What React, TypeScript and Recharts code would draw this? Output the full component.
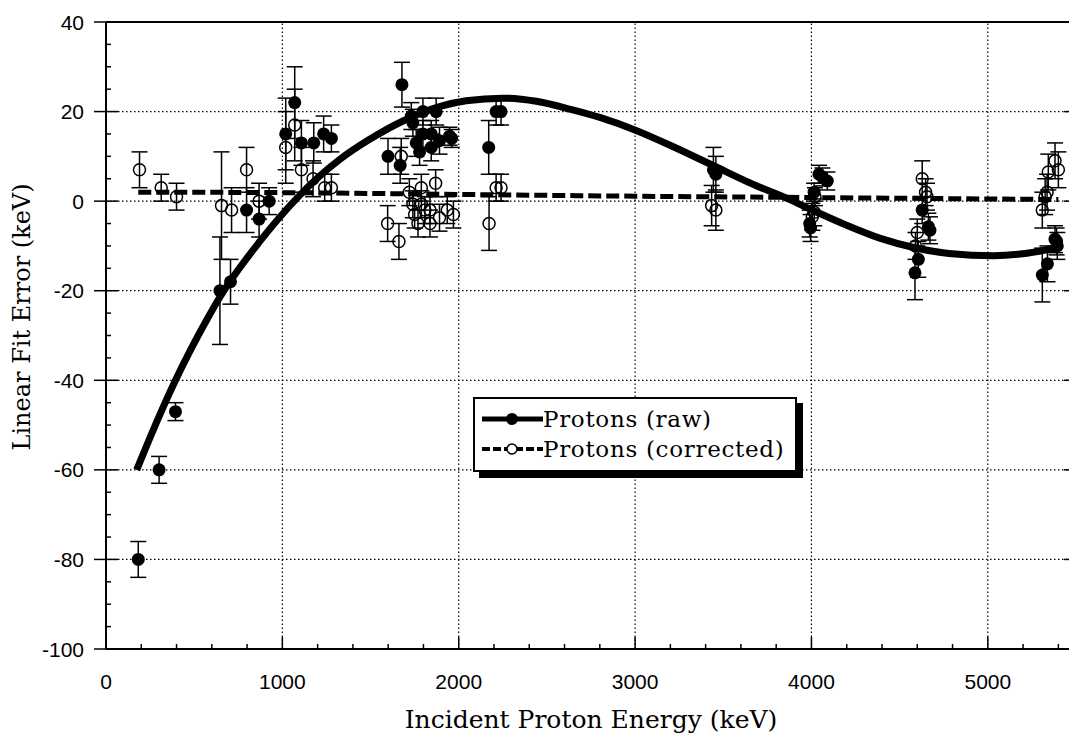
import React from "react";
import { ComposedChart, Line, Scatter, XAxis, YAxis, ErrorBar, ReferenceLine } from "recharts";

// axis ticks
const X_MAJOR = [0, 1000, 2000, 3000, 4000, 5000];
const X_MINOR = [0, 200, 400, 600, 800, 1000, 1200, 1400, 1600, 1800, 2000, 2200, 2400, 2600, 2800, 3000, 3200, 3400, 3600, 3800, 4000, 4200, 4400, 4600, 4800, 5000, 5200, 5400];
const Y_MAJOR = [-100, -80, -60, -40, -20, 0, 20, 40];
const Y_MINOR = [-100, -95, -90, -85, -80, -75, -70, -65, -60, -55, -50, -45, -40, -35, -30, -25, -20, -15, -10, -5, 0, 5, 10, 15, 20, 25, 30, 35, 40];

// Protons (raw): energy (keV), fit error (keV), uncertainty
const rawEnergy = [183, 301, 394, 646, 706, 797, 868, 925, 1019, 1070, 1108, 1178, 1234, 1278, 1599, 1668, 1678, 1731, 1740, 1759, 1778, 1797, 1797, 1844, 1844, 1872, 1891, 1948, 1960, 2170, 2212, 2240, 3444, 3458, 3990, 3995, 4015, 4043, 4062, 4090, 4587, 4606, 4628, 4663, 4672, 5309, 5338, 5381, 5394, 5390];
const rawError = [-80, -60, -47, -20, -18, -2, -4, 0, 15, 22, 13, 13, 15, 14, 10, 8, 26, 19, 17.5, 13, 11, 20, 15, 15, 12, 20, 13.5, 14.5, 14, 12, 20, 20, 7, 6, -5, -6, 2, 6, 5.4, 4.5, -16, -13, -2, -5.7, -6.5, -16.5, -14, -8.5, -10, -9];
const rawUnc = [4, 3, 2, 12, 5, 5, 4, 3, 8, 8, 5, 4.5, 4, 3, 4, 4, 5, 3, 3, 3, 3, 3, 3, 3, 3, 3, 3, 2, 2, 6, 3, 3, 5, 4, 3, 3, 2, 2, 2, 2, 6, 4, 3, 3, 3, 6, 4, 3, 3, 3];

// Protons (corrected)
const corrEnergy = [190, 313, 400, 655, 712, 797, 868, 1019, 1070, 1108, 1174, 1240, 1278, 1597, 1661, 1674, 1720, 1740, 1750, 1769, 1788, 1788, 1808, 1837, 1837, 1869, 1891, 1935, 1970, 2172, 2212, 2240, 3434, 3458, 4005, 4016, 4020, 4600, 4590, 4628, 4647, 4655, 5309, 5325, 5336, 5343, 5381, 5400];
const corrError = [7, 3, 1, -1, -2, 7, 0, 12, 17, 7, 5, 3, 3, -5, -9, 10, 2, -0.7, -3, -5, 3, -0.7, -2, -2, -5, 4, -3.7, -2, -3, -5, 3, 3, -1, -2, -3.5, -2.5, 1, -7, -10, 5, 2, 1, -2, 1, 2, 6.5, 9, 7];
const corrUnc = [4, 3, 3, 12, 5, 5, 4, 8, 8, 5, 4, 3, 3, 4, 4, 4, 3, 3, 3, 3, 3, 3, 3, 3, 3, 3, 3, 3, 3, 6, 3, 3, 4.5, 4.5, 3, 3, 2, 3, 3, 4, 3, 3, 4, 4, 4, 4, 4, 4];

// fitted curves
const fitRawEnergy = [174, 258, 394, 570, 646, 872, 1098, 1200, 1325, 1495, 1684, 1900, 2042, 2250, 2440, 2635, 2800, 3006, 3220, 3445, 3649, 3874, 4000, 4195, 4391, 4586, 4780, 5034, 5210, 5390];
const fitRawError = [-60, -52, -40, -26.6, -21.4, -9, 1.3, 5.2, 9.3, 13.8, 17.9, 21.2, 22.4, 23, 22.3, 20.5, 18.7, 15.8, 12.1, 7.9, 4.1, 0.4, -1.9, -5.3, -8.3, -10.4, -11.7, -12.2, -11.7, -10.4];
const fitCorrEnergy = [183, 1000, 2000, 3000, 4000, 4650, 5400];
const fitCorrError = [2, 1.9, 1.5, 1.1, 0.8, 0.6, 0.35];

const rawPts = rawEnergy.map((x, i) => ({ x, y: rawError[i], err: rawUnc[i] }));
const corrPts = corrEnergy.map((x, i) => ({ x, y: corrError[i], err: corrUnc[i] }));
const fitRaw = fitRawEnergy.map((x, i) => ({ x, y: fitRawError[i] }));
const fitCorr = fitCorrEnergy.map((x, i) => ({ x, y: fitCorrError[i] }));

const SANS = "'Liberation Sans', Arial, sans-serif";
const SERIF = "'DejaVu Serif', serif";

function XTick({ x, y, payload }: any) {
  const v = payload.value;
  const major = v % 1000 === 0;
  return (
    <g>
      {v > 0 && <line x1={x} x2={x} y1={y} y2={y - (major ? 12 : 5)} stroke="#000" strokeWidth={1.5} />}
      {major && (
        <text x={x} y={y + 40} textAnchor="middle" fill="#000" fontSize={21} fontFamily={SANS}>
          {v}
        </text>
      )}
    </g>
  );
}

function TopTick({ x, y }: any) {
  return <line x1={x} x2={x} y1={y} y2={y + 5} stroke="#000" strokeWidth={1.5} />;
}

function YTick({ x, y, payload }: any) {
  const v = payload.value;
  const major = v % 20 === 0;
  return (
    <g>
      <line x1={major ? x - 12 : x} x2={x + (major ? 12 : 5)} y1={y} y2={y} stroke="#000" strokeWidth={1.5} />
      {major && (
        <text x={x - 22} y={y} dy="0.36em" textAnchor="end" fill="#000" fontSize={21} fontFamily={SANS}>
          {v}
        </text>
      )}
    </g>
  );
}

function RightTick({ x, y, payload }: any) {
  const major = payload.value % 20 === 0;
  return <line x1={x} x2={x - (major ? 12 : 5)} y1={y} y2={y} stroke="#000" strokeWidth={1.5} />;
}

const FilledDot = (p: any) => <circle cx={p.cx} cy={p.cy} r={6.5} fill="#000" />;
const OpenDot = (p: any) => <circle cx={p.cx} cy={p.cy} r={6} fill="none" stroke="#000" strokeWidth={1.5} />;

const GRID = { stroke: "#000", strokeWidth: 1.2, strokeDasharray: "1.5 2.5" };

export default function App() {
  return (
    <div style={{ position: "relative", width: 1069, height: 729 }}>
      <ComposedChart width={1069} height={729} margin={{ top: 0, right: 0, bottom: 0, left: 0 }}>
        <XAxis
          xAxisId="x"
          type="number"
          dataKey="x"
          domain={[0, 5500]}
          allowDataOverflow
          ticks={X_MINOR}
          interval={0}
          height={88}
          tickLine={false}
          tickSize={0}
          tickMargin={0}
          tick={<XTick />}
          axisLine={{ stroke: "#000", strokeWidth: 2 }}
          label={{ value: "Incident Proton Energy (keV)", position: "insideBottom", offset: 9, fill: "#000", fontSize: 25, fontFamily: SERIF }}
        />
        <XAxis
          xAxisId="top"
          orientation="top"
          type="number"
          domain={[0, 5500]}
          allowDataOverflow
          ticks={X_MINOR}
          interval={0}
          height={14}
          tickLine={false}
          tickSize={0}
          tickMargin={0}
          tick={<TopTick />}
          axisLine={{ stroke: "#000", strokeWidth: 2 }}
        />
        <YAxis
          yAxisId="y"
          type="number"
          dataKey="y"
          domain={[-100, 40]}
          allowDataOverflow
          ticks={Y_MINOR}
          interval={0}
          width={98}
          tickLine={false}
          tickSize={0}
          tickMargin={0}
          tick={<YTick />}
          axisLine={{ stroke: "#000", strokeWidth: 2 }}
        />
        <YAxis
          yAxisId="right"
          orientation="right"
          type="number"
          domain={[-100, 40]}
          allowDataOverflow
          ticks={Y_MINOR}
          interval={0}
          width={1}
          tickLine={false}
          tickSize={0}
          tickMargin={0}
          tick={<RightTick />}
          axisLine={{ stroke: "#000", strokeWidth: 2 }}
        />
        {X_MAJOR.filter((v) => v > 0).map((v) => (
          <ReferenceLine key={"gx" + v} xAxisId="x" yAxisId="y" x={v} {...GRID} />
        ))}
        {Y_MAJOR.filter((v) => v > -100 && v < 40).map((v) => (
          <ReferenceLine key={"gy" + v} xAxisId="x" yAxisId="y" y={v} {...GRID} />
        ))}
        <Line
          xAxisId="x"
          yAxisId="y"
          data={fitCorr}
          dataKey="y"
          type="monotone"
          dot={false}
          stroke="#000"
          strokeWidth={5}
          strokeDasharray="13 5"
          isAnimationActive={false}
        />
        <Line
          xAxisId="x"
          yAxisId="y"
          data={fitRaw}
          dataKey="y"
          type="monotone"
          dot={false}
          stroke="#000"
          strokeWidth={7}
          isAnimationActive={false}
        />
        <Scatter xAxisId="x" yAxisId="y" data={corrPts} dataKey="y" shape={OpenDot} isAnimationActive={false}>
          <ErrorBar dataKey="err" direction="y" width={8} stroke="#000" strokeWidth={1.5} />
        </Scatter>
        <Scatter xAxisId="x" yAxisId="y" data={rawPts} dataKey="y" shape={FilledDot} isAnimationActive={false}>
          <ErrorBar dataKey="err" direction="y" width={8} stroke="#000" strokeWidth={1.5} />
        </Scatter>
      </ComposedChart>
      <div
        style={{
          position: "absolute",
          left: 14,
          top: 309,
          transform: "translate(-50%, -50%) rotate(-90deg)",
          whiteSpace: "nowrap",
          fontFamily: SERIF,
          fontSize: 24,
          color: "#000",
        }}
      >
        Linear Fit Error (keV)
      </div>
      <div
        style={{
          position: "absolute",
          left: 465,
          top: 389,
          width: 324,
          height: 75,
          boxSizing: "border-box",
          border: "2px solid #000",
          boxShadow: "6px 6px 0 #000",
          background: "#fff",
          paddingTop: 5,
          fontFamily: SERIF,
          fontSize: 23,
          letterSpacing: 0.7,
          color: "#000",
          whiteSpace: "nowrap",
        }}
      >
        <div style={{ display: "flex", alignItems: "center", height: 30 }}>
          <svg width={61} height={20} style={{ marginLeft: 7, flex: "none" }}>
            <line x1={0} x2={61} y1={10} y2={10} stroke="#000" strokeWidth={5} />
            <circle cx={30} cy={10} r={6} fill="#000" />
          </svg>
          <span>Protons (raw)</span>
        </div>
        <div style={{ display: "flex", alignItems: "center", height: 30 }}>
          <svg width={61} height={20} style={{ marginLeft: 7, flex: "none" }}>
            <line x1={0} x2={61} y1={10} y2={10} stroke="#000" strokeWidth={4} strokeDasharray="8 3" />
            <circle cx={30} cy={10} r={5} fill="#fff" stroke="#000" strokeWidth={1.5} />
          </svg>
          <span>Protons (corrected)</span>
        </div>
      </div>
    </div>
  );
}
